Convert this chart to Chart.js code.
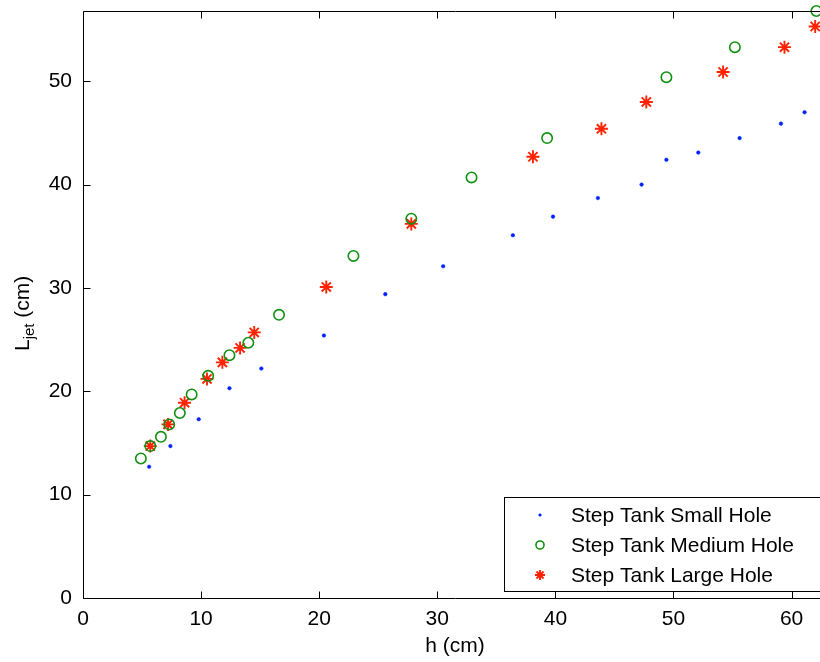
<!doctype html>
<html lang="en">
<head>
<meta charset="utf-8">
<title>Step Tank jet length</title>
<style>
  * { margin: 0; padding: 0; }
  html, body { width: 820px; height: 662px; overflow: hidden; background: #fff; }
  #myChart { position: absolute; left: 0; top: 0; }
</style>
</head>
<body>
<canvas id="myChart" width="830" height="662"></canvas>
<script src="https://cdn.jsdelivr.net/npm/chart.js/dist/chart.umd.min.js"></script>
<script>
// data: h (cm) and L_jet (cm)
const seriesNames = ['Step Tank Small Hole', 'Step Tank Medium Hole', 'Step Tank Large Hole'];

const smallH = [5.6, 7.4, 9.8, 12.4, 15.1, 20.4, 25.6, 30.5, 36.4, 39.8, 43.6, 47.3, 49.4, 52.1, 55.6, 59.1, 61.1];
const smallL = [12.7, 14.7, 17.3, 20.3, 22.2, 25.4, 29.4, 32.1, 35.1, 36.9, 38.7, 40.0, 42.4, 43.1, 44.5, 45.9, 47.0];

const mediumH = [4.9, 5.7, 6.6, 7.3, 8.2, 9.2, 10.6, 12.4, 14.0, 16.6, 22.9, 27.8, 32.9, 39.3, 49.4, 55.2, 62.1];
const mediumL = [13.5, 14.7, 15.6, 16.8, 17.9, 19.7, 21.5, 23.5, 24.7, 27.4, 33.1, 36.7, 40.7, 44.5, 50.4, 53.3, 56.8];

const largeH = [5.7, 7.2, 8.6, 10.5, 11.8, 13.3, 14.5, 20.6, 27.8, 38.1, 43.9, 47.7, 54.2, 59.4, 62.0];
const largeL = [14.7, 16.8, 18.9, 21.2, 22.8, 24.2, 25.7, 30.1, 36.2, 42.7, 45.4, 48.0, 50.9, 53.3, 55.3];

const xTicks = [0, 10, 20, 30, 40, 50, 60];
const yTicks = [0, 10, 20, 30, 40, 50];

const FONT = "'Liberation Sans', Arial, Helvetica, sans-serif";

function toPoints(xs, ys) {
  return xs.map((v, i) => ({ x: v, y: ys[i] }));
}

const data = {
  datasets: [
    {
      label: seriesNames[0],
      data: toPoints(smallH, smallL),
      pointStyle: 'circle',
      pointRadius: 1.8,
      backgroundColor: '#0022ff',
      borderColor: '#0022ff',
      borderWidth: 0.5
    },
    {
      label: seriesNames[1],
      data: toPoints(mediumH, mediumL),
      pointStyle: 'circle',
      pointRadius: 5.2,
      backgroundColor: 'rgba(0,0,0,0)',
      borderColor: '#109010',
      borderWidth: 1.6
    },
    {
      label: seriesNames[2],
      data: toPoints(largeH, largeL),
      pointStyle: 'star',
      pointRadius: 6.5,
      backgroundColor: '#ff2200',
      borderColor: '#ff2200',
      borderWidth: 1.9
    }
  ]
};

// matlab style box, inward ticks, y label with subscript, legend inside axes
const matlabAxes = {
  id: 'matlabAxes',
  afterDraw(chart) {
    const { ctx, chartArea: a, scales: { x, y } } = chart;
    ctx.save();
    ctx.strokeStyle = '#000';
    ctx.lineWidth = 1;
    const L = Math.round(a.left) + 0.5, R = Math.round(a.right) + 0.5;
    const T = Math.round(a.top) + 0.5, B = Math.round(a.bottom) + 0.5;
    ctx.beginPath();
    ctx.rect(L, T, R - L, B - T);
    const tl = 7;
    xTicks.forEach(v => {
      const px = Math.round(x.getPixelForValue(v)) + 0.5;
      ctx.moveTo(px, B); ctx.lineTo(px, B - tl);
      ctx.moveTo(px, T); ctx.lineTo(px, T + tl);
    });
    yTicks.forEach(v => {
      const py = Math.round(y.getPixelForValue(v)) + 0.5;
      ctx.moveTo(L, py); ctx.lineTo(L + tl, py);
      ctx.moveTo(R, py); ctx.lineTo(R - tl, py);
    });
    ctx.stroke();

    // y axis label: L_jet (cm)
    ctx.fillStyle = '#000';
    ctx.translate(29, 351);
    ctx.rotate(-Math.PI / 2);
    ctx.textBaseline = 'alphabetic';
    ctx.textAlign = 'left';
    ctx.font = '21px ' + FONT;
    ctx.fillText('L', 0, 0);
    let w = ctx.measureText('L').width;
    ctx.font = '15px ' + FONT;
    ctx.fillText('jet', w, 5);
    w += ctx.measureText('jet').width;
    ctx.font = '21px ' + FONT;
    ctx.fillText(' (cm)', w, 0);
    ctx.setTransform(1, 0, 0, 1, 0, 0);

    // legend box
    const bx = 504.5, by = 497.5, bw = R - bx, bh = 94;
    ctx.fillStyle = '#fff';
    ctx.fillRect(bx, by, bw, bh);
    ctx.strokeRect(bx, by, bw, bh);
    const rows = [515, 545, 575];
    chart.data.datasets.forEach((ds, i) => {
      ctx.fillStyle = ds.backgroundColor;
      ctx.strokeStyle = ds.borderColor;
      ctx.lineWidth = ds.borderWidth;
      Chart.helpers.drawPoint(ctx, {
        pointStyle: ds.pointStyle,
        radius: i === 0 ? 1.3 : (i === 1 ? 4 : 5),
        borderWidth: ds.borderWidth,
        rotation: 0
      }, 540, rows[i]);
      ctx.fillStyle = '#000';
      ctx.font = '21px ' + FONT;
      ctx.textBaseline = 'middle';
      ctx.textAlign = 'left';
      ctx.fillText(ds.label, 571, rows[i] + 1);
    });
    ctx.restore();
  }
};

const config = {
  type: 'scatter',
  data,
  options: {
    responsive: false,
    animation: false,
    events: [],
    layout: { autoPadding: false, padding: { left: 0, right: 3, top: 11, bottom: 0 } },
    datasets: { scatter: { clip: false } },
    plugins: {
      legend: { display: false },
      tooltip: { enabled: false }
    },
    scales: {
      x: {
        type: 'linear',
        min: 0,
        max: 63,
        grid: { display: false, drawTicks: false },
        border: { display: false },
        ticks: {
          stepSize: 10,
          includeBounds: false,
          autoSkip: false,
          maxRotation: 0,
          padding: 9,
          color: '#000',
          font: { family: FONT, size: 21 }
        },
        title: {
          display: true,
          text: 'h (cm)',
          color: '#000',
          font: { family: FONT, size: 21 },
          padding: { top: 0, bottom: 3 }
        },
        afterFit(scale) {
          scale.height = 64;
          scale.paddingLeft = 0;
          scale.paddingRight = 0;
        }
      },
      y: {
        type: 'linear',
        min: 0,
        max: 56.8,
        grid: { display: false, drawTicks: false },
        border: { display: false },
        ticks: {
          stepSize: 10,
          includeBounds: false,
          autoSkip: false,
          padding: 11,
          color: '#000',
          font: { family: FONT, size: 21 }
        },
        afterFit(scale) {
          scale.width = 83;
          scale.paddingTop = 0;
          scale.paddingBottom = 0;
        }
      }
    }
  },
  plugins: [matlabAxes]
};

const ctx = document.getElementById('myChart');
const myChart = new Chart(ctx, config);
</script>
</body>
</html>
